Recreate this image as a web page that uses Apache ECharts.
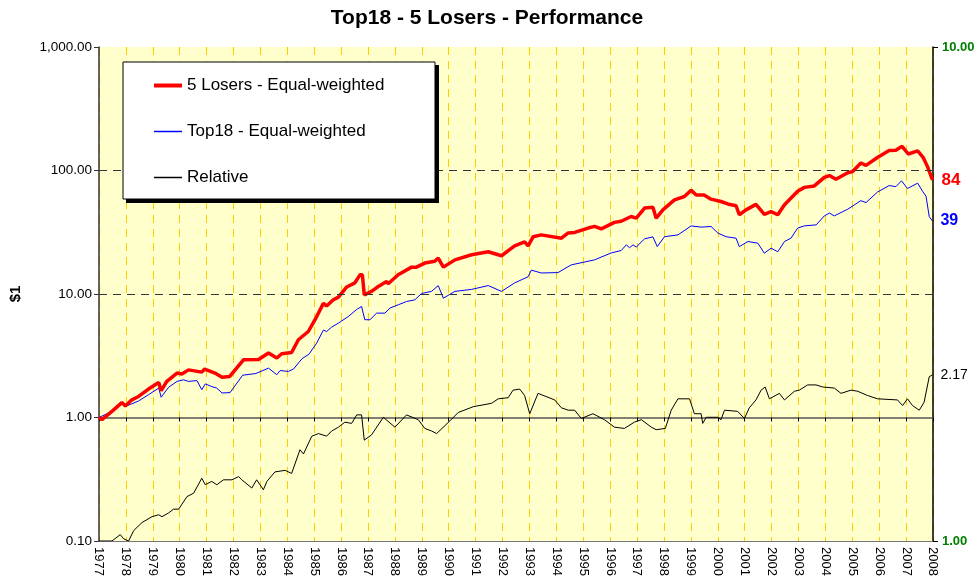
<!DOCTYPE html>
<html>
<head>
<meta charset="utf-8">
<script src="https://cdn.jsdelivr.net/npm/echarts@6/dist/echarts.min.js"></script>
<style>
  html, body { margin: 0; padding: 0; background: #fff; }
  #chart { width: 978px; height: 583px; }
</style>
</head>
<body>
<div id="chart"></div>
<script>
// [year, value]
var losersData = [[1977.00,1.00],[1977.11,0.96],[1977.48,1.12],[1977.85,1.32],[1977.98,1.24],[1978.22,1.39],[1978.47,1.48],[1978.84,1.70],[1979.22,1.92],[1979.31,1.65],[1979.52,1.96],[1979.90,2.29],[1980.08,2.25],[1980.33,2.43],[1980.82,2.33],[1980.93,2.47],[1981.31,2.29],[1981.57,2.12],[1981.86,2.15],[1982.37,2.93],[1982.93,2.95],[1983.30,3.33],[1983.61,3.03],[1983.79,3.28],[1984.16,3.36],[1984.41,4.26],[1984.78,4.97],[1985.03,6.19],[1985.34,8.4],[1985.46,8.0],[1985.71,8.97],[1985.90,9.44],[1986.21,11.4],[1986.51,12.3],[1986.70,14.3],[1986.79,14.3],[1986.86,9.85],[1987.13,10.5],[1987.38,11.5],[1987.69,12.6],[1987.75,12.1],[1988.12,14.3],[1988.62,16.5],[1988.80,16.5],[1989.11,17.8],[1989.48,18.4],[1989.61,19.5],[1989.80,16.5],[1990.23,18.9],[1990.85,20.8],[1991.47,22.0],[1991.96,20.4],[1992.45,24.5],[1992.82,26.4],[1992.95,24.5],[1993.14,29.1],[1993.44,30.1],[1994.19,28.3],[1994.44,31.2],[1994.68,31.5],[1995.18,34.2],[1995.42,35.3],[1995.67,33.7],[1996.16,38.0],[1996.41,38.8],[1996.78,42.4],[1996.97,41.1],[1997.28,49.6],[1997.59,50.4],[1997.71,41.1],[1997.96,48.0],[1998.39,57.8],[1998.76,61.6],[1999.01,69.2],[1999.20,63.3],[1999.49,63.3],[1999.75,58.6],[2000.12,56.1],[2000.37,53.6],[2000.68,51.8],[2000.80,43.8],[2001.05,48.0],[2001.42,53.2],[2001.73,44.2],[2001.98,46.5],[2002.23,43.8],[2002.48,52.8],[2002.97,68],[2003.22,73],[2003.59,75],[2003.96,88],[2004.15,91],[2004.39,85],[2004.83,96],[2005.01,98],[2005.32,115],[2005.51,110],[2005.95,128],[2006.37,145],[2006.62,146],[2006.85,157],[2007.08,136],[2007.43,144],[2007.64,127],[2007.80,107],[2007.98,84]];

var top18Data = [[1977.00,1.00],[1977.48,1.12],[1977.85,1.31],[1977.98,1.23],[1978.47,1.36],[1978.84,1.53],[1979.22,1.73],[1979.31,1.46],[1979.59,1.76],[1979.90,1.96],[1980.14,2.02],[1980.33,1.96],[1980.64,1.99],[1980.82,1.68],[1980.95,1.87],[1981.19,1.78],[1981.38,1.73],[1981.57,1.58],[1981.87,1.59],[1982.34,2.2],[1982.83,2.27],[1983.30,2.51],[1983.61,2.22],[1983.73,2.40],[1984.04,2.36],[1984.23,2.47],[1984.55,3.0],[1984.80,3.25],[1985.09,4.0],[1985.34,5.1],[1985.46,4.97],[1985.65,5.4],[1985.90,5.81],[1986.27,6.58],[1986.58,7.5],[1986.76,7.92],[1986.88,6.19],[1987.07,6.19],[1987.32,7.0],[1987.63,7.0],[1987.81,7.69],[1988.12,8.17],[1988.43,8.69],[1988.74,8.97],[1988.99,10.1],[1989.36,10.5],[1989.61,11.7],[1989.80,9.25],[1990.23,10.5],[1990.85,10.9],[1991.47,11.7],[1991.96,10.5],[1992.45,12.3],[1992.95,13.8],[1993.07,15.6],[1993.44,14.8],[1994.06,14.9],[1994.55,17.2],[1995.42,18.9],[1996.04,21.5],[1996.41,22.5],[1996.60,25],[1996.72,23.7],[1996.85,25],[1996.97,24],[1997.28,28.0],[1997.59,29.0],[1997.75,24.2],[1998.02,29.1],[1998.52,30.1],[1999.01,35.6],[1999.38,34.8],[1999.75,35.2],[2000.00,31.2],[2000.31,29.1],[2000.68,28.3],[2000.80,24.2],[2001.12,26.6],[2001.49,25.8],[2001.73,21.4],[2001.98,23.5],[2002.23,22.0],[2002.48,26.6],[2002.72,28.3],[2002.97,34.2],[2003.22,35.6],[2003.66,36.3],[2003.96,42.9],[2004.15,45.2],[2004.33,42.9],[2004.83,48.6],[2005.32,57.0],[2005.51,55],[2005.94,67],[2006.37,75.5],[2006.62,74],[2006.83,82.5],[2007.05,71.5],[2007.43,79],[2007.61,68],[2007.74,62],[2007.86,42.4],[2007.98,39]];

// relative is on the right axis (1 - 10)
var relativeData = [[1977.00,1.00],[1977.48,1.00],[1977.79,1.03],[1977.92,1.01],[1978.10,1.00],[1978.29,1.05],[1978.60,1.09],[1978.97,1.12],[1979.22,1.13],[1979.34,1.12],[1979.59,1.14],[1979.77,1.16],[1979.96,1.16],[1980.27,1.23],[1980.52,1.25],[1980.82,1.34],[1980.95,1.30],[1981.19,1.32],[1981.38,1.30],[1981.63,1.33],[1981.94,1.33],[1982.19,1.35],[1982.31,1.33],[1982.68,1.28],[1982.86,1.33],[1983.11,1.27],[1983.24,1.32],[1983.54,1.38],[1983.92,1.39],[1984.16,1.37],[1984.47,1.53],[1984.60,1.50],[1984.91,1.63],[1985.16,1.65],[1985.46,1.63],[1985.65,1.67],[1985.90,1.70],[1986.14,1.74],[1986.39,1.73],[1986.58,1.80],[1986.76,1.80],[1986.86,1.60],[1987.13,1.64],[1987.57,1.78],[1988.00,1.70],[1988.43,1.80],[1988.87,1.76],[1989.11,1.69],[1989.36,1.67],[1989.55,1.65],[1990.04,1.75],[1990.35,1.82],[1990.91,1.87],[1991.59,1.90],[1991.84,1.94],[1992.21,1.95],[1992.39,2.02],[1992.64,2.03],[1992.82,1.97],[1993.01,1.81],[1993.32,1.99],[1993.94,1.93],[1994.19,1.86],[1994.44,1.84],[1994.68,1.84],[1994.93,1.77],[1995.36,1.81],[1995.79,1.76],[1996.16,1.70],[1996.53,1.69],[1996.90,1.74],[1997.16,1.76],[1997.53,1.70],[1997.71,1.68],[1998.05,1.69],[1998.27,1.84],[1998.52,1.94],[1998.95,1.94],[1999.13,1.81],[1999.38,1.81],[1999.44,1.73],[1999.57,1.78],[2000.00,1.78],[2000.12,1.76],[2000.25,1.84],[2000.74,1.83],[2000.99,1.77],[2001.17,1.86],[2001.42,1.93],[2001.61,2.02],[2001.76,2.05],[2001.92,1.94],[2002.29,1.99],[2002.48,1.93],[2002.85,2.01],[2003.03,2.02],[2003.34,2.07],[2003.65,2.07],[2003.90,2.05],[2004.33,2.04],[2004.58,1.99],[2004.95,2.02],[2005.20,2.01],[2005.57,1.97],[2005.94,1.94],[2006.68,1.93],[2006.87,1.88],[2007.05,1.94],[2007.24,1.88],[2007.49,1.84],[2007.67,1.91],[2007.86,2.15],[2007.98,2.17]];

var seriesNames = ['5 Losers - Equal-weighted', 'Top18 - Equal-weighted', 'Relative'];
var seriesColors = ['#FF0000', '#0000FF', '#000000'];
var seriesWidths = [3.5, 1, 1];
var firstYear = 1977;
var lastYear = 2008;
var leftMin = 0.1, leftMax = 1000;
var rightMin = 1, rightMax = 10;
var dashedLevels = [10, 100];

var font = 'Liberation Sans, Arial, sans-serif';
var gridTop = 47, gridBottom = 42;
var plotH = 583 - gridTop - gridBottom;
// x axis crosses the left axis at 1.00
var crossOffset = plotH * (Math.log10(1) - Math.log10(leftMin)) / (Math.log10(leftMax) - Math.log10(leftMin));

function leftLabel(v) {
    var s = v.toFixed(2);
    var parts = s.split('.');
    parts[0] = parts[0].replace(/\B(?=(\d{3})+(?!\d))/g, ',');
    return parts.join('.');
}

var myChart = echarts.init(document.getElementById('chart'));
var option = {
    animation: false,
    backgroundColor: '#ffffff',
    textStyle: { fontFamily: font },
    title: {
        text: 'Top18 - 5 Losers - Performance',
        left: 482,
        textAlign: 'center',
        top: 3,
        textStyle: { fontSize: 21, fontWeight: 'bold', color: '#000', fontFamily: font }
    },
    grid: {
        left: 97, right: 45, top: gridTop, bottom: gridBottom,
        show: true, backgroundColor: '#FFFFCC', borderWidth: 0
    },
    graphic: [
        { type: 'rect', z: 50, shape: { x: 126, y: 65, width: 313, height: 138 }, style: { fill: '#000' } },
        { type: 'rect', z: 51, shape: { x: 123, y: 62, width: 312, height: 137 }, style: { fill: '#fff', stroke: '#000', lineWidth: 1 } }
    ],
    legend: {
        data: seriesNames.map(function (n, i) {
            return { name: n, lineStyle: { width: seriesWidths[i] + 0.5, color: seriesColors[i] } };
        }),
        orient: 'vertical',
        left: 152,
        top: 77,
        padding: 0,
        z: 60,
        itemWidth: 28,
        itemHeight: 14,
        itemGap: 29,
        itemStyle: { opacity: 0 },
        textStyle: { fontSize: 17, color: '#000', fontFamily: font }
    },
    xAxis: [
        {
            type: 'value',
            min: firstYear,
            max: lastYear,
            interval: 1,
            position: 'bottom',
            axisLine: { lineStyle: { color: '#777', width: 1 } },
            axisTick: { show: false },
            axisLabel: { rotate: -90, fontSize: 13, color: '#000', margin: 6, formatter: function (v) { return String(v); } },
            splitLine: { show: true, lineStyle: { color: '#FFCC00', type: [8, 6], width: 1 } }
        },
        {
            type: 'value',
            min: firstYear,
            max: lastYear,
            interval: 1,
            position: 'bottom',
            offset: -crossOffset,
            axisLine: { lineStyle: { color: '#555', width: 1.5 } },
            axisTick: { show: true, length: 4, lineStyle: { color: '#000' } },
            axisLabel: { show: false },
            splitLine: { show: false }
        }
    ],
    yAxis: [
        {
            type: 'log',
            logBase: 10,
            min: leftMin,
            max: leftMax,
            position: 'left',
            name: '$1',
            nameLocation: 'middle',
            nameGap: 76,
            nameTextStyle: { fontSize: 15, fontWeight: 'bold', color: '#000', fontFamily: font },
            axisLine: { show: true, lineStyle: { color: '#333', width: 1.5 } },
            axisTick: { show: true, length: 5, lineStyle: { color: '#333' } },
            axisLabel: { fontSize: 13.5, color: '#000', margin: 7, formatter: leftLabel },
            splitLine: { show: false }
        },
        {
            type: 'log',
            logBase: 10,
            min: rightMin,
            max: rightMax,
            position: 'right',
            axisLine: { show: true, lineStyle: { color: '#000', width: 1.5 } },
            axisTick: { show: true, length: 5, lineStyle: { color: '#000' } },
            axisLabel: { fontSize: 13, fontWeight: 'bold', color: '#008000', margin: 9, formatter: function (v) { return v.toFixed(2); } },
            splitLine: { show: false }
        }
    ],
    series: [
        {
            name: 'grid lines',
            type: 'line',
            z: 1,
            data: [],
            silent: true,
            markLine: {
                silent: true,
                symbol: 'none',
                label: { show: false },
                lineStyle: { color: '#333', type: [8, 6], width: 1 },
                data: dashedLevels.map(function (v) { return { yAxis: v }; })
            }
        },
        {
            name: seriesNames[0],
            type: 'line',
            data: losersData,
            symbol: 'none',
            z: 4,
            lineStyle: { color: seriesColors[0], width: seriesWidths[0] },
            itemStyle: { color: seriesColors[0] },
            endLabel: {
                show: true,
                distance: 9,
                formatter: function (p) { return Math.round(p.value[1]); },
                color: seriesColors[0], fontWeight: 'bold', fontSize: 17, fontFamily: font
            }
        },
        {
            name: seriesNames[1],
            type: 'line',
            data: top18Data,
            symbol: 'none',
            z: 3,
            lineStyle: { color: seriesColors[1], width: seriesWidths[1] },
            itemStyle: { color: seriesColors[1] },
            endLabel: {
                show: true,
                distance: 8,
                formatter: function (p) { return Math.round(p.value[1]); },
                color: seriesColors[1], fontWeight: 'bold', fontSize: 16, fontFamily: font
            }
        },
        {
            name: seriesNames[2],
            type: 'line',
            yAxisIndex: 1,
            data: relativeData,
            symbol: 'none',
            z: 3,
            lineStyle: { color: seriesColors[2], width: seriesWidths[2] },
            itemStyle: { color: seriesColors[2] },
            endLabel: {
                show: true,
                distance: 8,
                formatter: function (p) { return p.value[1].toFixed(2); },
                color: seriesColors[2], fontSize: 14, fontFamily: font
            }
        }
    ]
};
myChart.setOption(option);
</script>
</body>
</html>
